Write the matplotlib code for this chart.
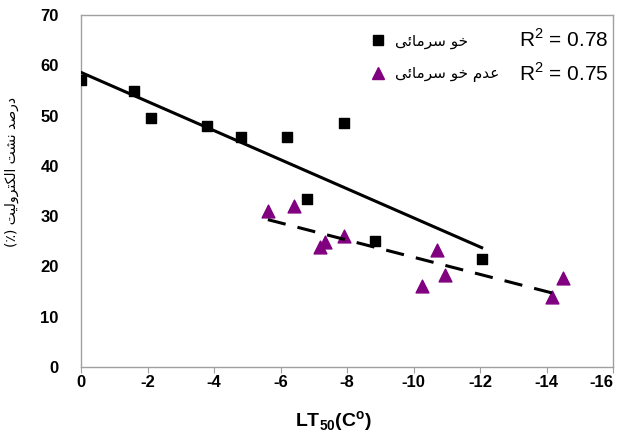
import numpy as np
import matplotlib
matplotlib.use("Agg")
import matplotlib.pyplot as plt
from matplotlib.lines import Line2D

# data
cold_x = [0, -1.6, -2.1, -3.8, -4.8, -6.2, -6.8, -7.9, -8.85, -12.05]
cold_y = [57, 54.8, 49.5, 48, 45.8, 45.8, 33.5, 48.5, 25, 21.5]
noncold_x = [-5.62, -6.4, -7.34, -7.2, -7.9, -10.7, -10.26, -10.95, -14.17, -14.5]
noncold_y = [31, 32, 24.8, 23.8, 26, 23.2, 16.2, 18.2, 14, 17.6]
r2_labels = [r"R$^{2}$ = 0.78", r"R$^{2}$ = 0.75"]
series_names = ["خو سرمائی", "عدم خو سرمائی"]
ylabel_fa = "درصد نشت الکترولیت (٪)"
xticks = [0, -2, -4, -6, -8, -10, -12, -14, -16]
yticks = [0, 10, 20, 30, 40, 50, 60, 70]

# matplotlib has no RTL shaping -> tiny Persian reshaper (presentation forms)
FORMS = {
    'ا': (0xFE8D, 0xFE8E),
    'ت': (0xFE95, 0xFE96, 0xFE97, 0xFE98),
    'خ': (0xFEA5, 0xFEA6, 0xFEA7, 0xFEA8),
    'د': (0xFEA9, 0xFEAA),
    'ر': (0xFEAD, 0xFEAE),
    'س': (0xFEB1, 0xFEB2, 0xFEB3, 0xFEB4),
    'ش': (0xFEB5, 0xFEB6, 0xFEB7, 0xFEB8),
    'ص': (0xFEB9, 0xFEBA, 0xFEBB, 0xFEBC),
    'ع': (0xFEC9, 0xFECA, 0xFECB, 0xFECC),
    'ل': (0xFEDD, 0xFEDE, 0xFEDF, 0xFEE0),
    'م': (0xFEE1, 0xFEE2, 0xFEE3, 0xFEE4),
    'ن': (0xFEE5, 0xFEE6, 0xFEE7, 0xFEE8),
    'و': (0xFEED, 0xFEEE),
    'ئ': (0xFE89, 0xFE8A, 0xFE8B, 0xFE8C),
    'ی': (0xFEEF, 0xFEF0, 0xFEF3, 0xFEF4),
    'ک': (0xFED9, 0xFEDA, 0xFEDB, 0xFEDC),
}


def shape_fa(text):
    out = []
    for i, ch in enumerate(text):
        forms = FORMS.get(ch)
        if forms is None:
            out.append(ch)
            continue
        prev = text[i - 1] if i > 0 else ''
        nxt = text[i + 1] if i + 1 < len(text) else ''
        join_prev = prev in FORMS and len(FORMS[prev]) == 4
        join_next = len(forms) == 4 and nxt in FORMS
        if join_prev and join_next:
            idx = 3
        elif join_prev:
            idx = 1
        elif join_next:
            idx = 2
        else:
            idx = 0
        out.append(chr(forms[idx]))
    vis = ''.join(reversed(out))
    return vis.translate(str.maketrans('()', ')('))


plt.rcParams['font.family'] = ['Liberation Sans', 'DejaVu Sans']
plt.rcParams['mathtext.fontset'] = 'custom'
plt.rcParams['mathtext.rm'] = 'Liberation Sans'
plt.rcParams['mathtext.bf'] = 'Liberation Sans:bold'

fig = plt.figure(figsize=(6.19, 4.37), dpi=100)
ax = fig.add_axes([81 / 619, 1 - 367 / 437, 532 / 619, 352 / 437])

purple = "#800080"
cx, cy = np.array(cold_x), np.array(cold_y)
nx, ny = np.array(noncold_x), np.array(noncold_y)

ax.scatter(cx, cy, marker='s', s=60, color='black', zorder=3)
ax.scatter(nx, ny, marker='^', s=85, color=purple, zorder=3)

# linear trendlines over each series' x range
a, b = np.polyfit(cx, cy, 1)
xs = np.array([cx.max(), cx.min()])
ax.plot(xs, a * xs + b, color='black', lw=2.2, zorder=4)
a2, b2 = np.polyfit(nx, ny, 1)
xs2 = np.array([nx.max(), nx.min()])
ax.plot(xs2, a2 * xs2 + b2, color='black', lw=2.2, dashes=(6, 4), zorder=4)

ax.set_xlim(0, -16)
ax.set_ylim(0, 70)
ax.set_xticks(xticks)
ax.set_yticks(yticks)
ax.set_xticklabels([str(t) for t in xticks], fontsize=12, fontweight='bold')
ax.set_yticklabels([str(t) for t in yticks], fontsize=12, fontweight='bold')
ax.get_xticklabels()[-1].set_ha('right')
ax.tick_params(axis='x', length=4, color='#a0a0a0', pad=2)
ax.tick_params(axis='y', length=0, pad=16)
for sp in ax.spines.values():
    sp.set_color('#a0a0a0')
    sp.set_linewidth(1)

ax.set_xlabel(r"LT$_{\mathbf{50}}$(C$^{\mathbf{o}}$)", fontsize=14, fontweight='bold')
ax.xaxis.set_label_coords(0.474, -0.121)

fig.text(12 / 619, 1 - 172 / 437, shape_fa(ylabel_fa), rotation=90,
         ha='center', va='center', fontsize=10, family='DejaVu Sans')

handles = [
    Line2D([], [], marker='s', ls='none', color='black', markersize=7.5),
    Line2D([], [], marker='^', ls='none', color=purple, markersize=9),
]
ax.legend(handles, [shape_fa(s) for s in series_names], loc='upper left',
          bbox_to_anchor=(0.530, 0.969), frameon=False, borderpad=0,
          handlelength=1, handletextpad=0.6, labelspacing=1.15,
          prop={'family': 'DejaVu Sans', 'size': 11})

ax.text(0.991, 0.929, r2_labels[0], transform=ax.transAxes, ha='right',
        va='center', fontsize=15)
ax.text(0.991, 0.835, r2_labels[1], transform=ax.transAxes, ha='right',
        va='center', fontsize=15)

fig.savefig("out.png", dpi=100)
